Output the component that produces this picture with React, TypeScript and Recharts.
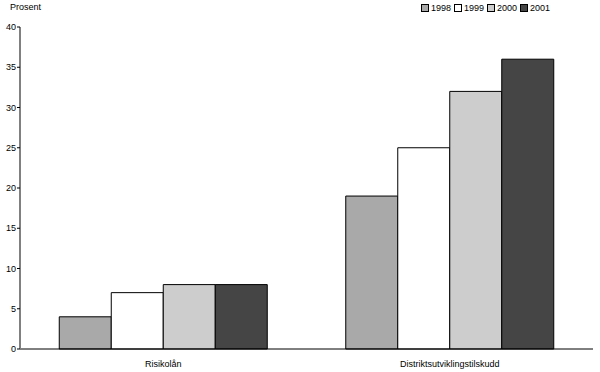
import React from "react";
import { BarChart, Bar, XAxis, YAxis } from "recharts";

const categories = ["Risikolån", "Distriktsutviklingstilskudd"];
const years = ["1998", "1999", "2000", "2001"];
const values1998 = [4, 19];
const values1999 = [7, 25];
const values2000 = [8, 32];
const values2001 = [8, 36];
const yTicks = [0, 5, 10, 15, 20, 25, 30, 35, 40];
const colors = ["#a9a9a9", "#ffffff", "#cdcdcd", "#454545"];

const seriesValues = [values1998, values1999, values2000, values2001];
const data = categories.map((name, i) => {
  const row: Record<string, string | number> = { name };
  years.forEach((y, j) => {
    row[y] = seriesValues[j][i];
  });
  return row;
});

const FONT = "'Liberation Sans', Arial, sans-serif";

export default function App() {
  return (
    <div style={{ position: "absolute", left: 0, top: 0, width: 600, height: 372, background: "#fff", fontFamily: FONT }}>
      <div style={{ position: "absolute", left: 10, top: 2, fontSize: 9, color: "#000" }}>Prosent</div>
      <div style={{ position: "absolute", left: 421, top: 3, display: "flex", fontSize: 9, color: "#000", alignItems: "center" }}>
        {years.map((y, i) => (
          <div key={y} style={{ display: "flex", alignItems: "center", marginRight: 3 }}>
            <div style={{ width: 6, height: 6, background: colors[i], border: "1px solid #000", marginRight: 2 }} />
            <span>{y}</span>
          </div>
        ))}
      </div>
      <BarChart
        width={600}
        height={372}
        data={data}
        margin={{ top: 27, right: 7, bottom: 0, left: 0 }}
        barCategoryGap="13.7%"
        barGap={0}
        style={{ position: "absolute", left: 0, top: 0 }}
      >
        <XAxis
          dataKey="name"
          height={23}
          tickLine={false}
          tickMargin={6}
          axisLine={{ stroke: "#000", strokeWidth: 1 }}
          tick={{ fill: "#000", fontSize: 9, fontFamily: FONT }}
        />
        <XAxis
          xAxisId="top"
          dataKey="name"
          orientation="top"
          height={0}
          tick={false}
          tickLine={false}
          axisLine={{ stroke: "#000", strokeWidth: 1 }}
        />
        <YAxis
          domain={[0, 40]}
          ticks={yTicks}
          width={20}
          tickSize={3}
          tickMargin={1}
          interval={0}
          axisLine={{ stroke: "#808080", strokeWidth: 2 }}
          tickLine={{ stroke: "#000" }}
          tick={{ fill: "#000", fontSize: 9, fontFamily: FONT }}
        />
        <YAxis
          yAxisId="right"
          orientation="right"
          domain={[0, 40]}
          width={0}
          tick={false}
          tickLine={false}
          axisLine={{ stroke: "#000", strokeWidth: 1 }}
        />
        {years.map((y, i) => (
          <Bar key={y} dataKey={y} fill={colors[i]} stroke="#000" strokeWidth={1} isAnimationActive={false} />
        ))}
      </BarChart>
    </div>
  );
}
